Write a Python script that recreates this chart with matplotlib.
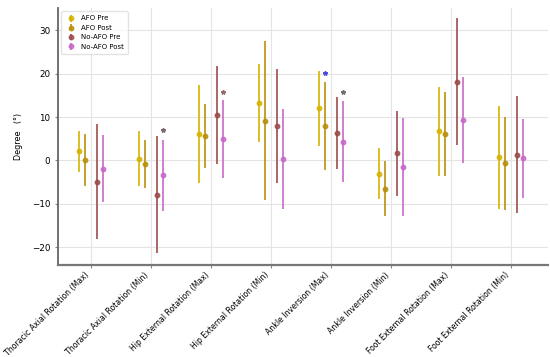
import matplotlib.pyplot as plt
import numpy as np

categories = ["Thoracic Axial Rotation (Max)", "Thoracic Axial Rotation (Min)",
              "Hip External Rotation (Max)", "Hip External Rotation (Min)",
              "Ankle Inversion (Max)", "Ankle Inversion (Min)",
              "Foot External Rotation (Max)", "Foot External Rotation (Min)"]

labels = ["AFO Pre", "AFO Post", "No-AFO Pre", "No-AFO Post"]

afo_pre_mean = [2.1, 0.4, 6.1, 13.2, 12.0, -3.1, 6.7, 0.7]
afo_pre_sd = [4.8, 6.3, 11.2, 9.0, 8.6, 5.9, 10.2, 11.8]

afo_post_mean = [0.0, -0.85, 5.6, 9.2, 7.9, -6.5, 6.1, -0.7]
afo_post_sd = [6.0, 5.6, 7.35, 18.4, 10.1, 6.4, 9.7, 10.7]

noafo_pre_mean = [-4.9, -7.9, 10.5, 8.0, 6.4, 1.6, 18.2, 1.3]
noafo_pre_sd = [13.3, 13.5, 11.4, 13.2, 8.3, 9.8, 14.6, 13.5]

noafo_post_mean = [-1.9, -3.4, 4.9, 0.3, 4.3, -1.5, 9.3, 0.5]
noafo_post_sd = [7.7, 8.2, 9.0, 11.5, 9.3, 11.4, 9.9, 9.1]

# significance marks: (category index, series index, y value, colour)
sig_marks = [(1, 3, 6.95, "#7a6a6a"), (2, 3, 15.9, "#9a6a6a"),
             (4, 1, 20.1, "#4a4ae0"), (4, 3, 15.75, "#707070")]

means = [afo_pre_mean, afo_post_mean, noafo_pre_mean, noafo_post_mean]
sds = [afo_pre_sd, afo_post_sd, noafo_pre_sd, noafo_post_sd]
colors = ["#d4b400", "#b8900b", "#9c4c4c", "#c868c8"]
offsets = [-0.2, -0.1, 0.1, 0.2]

fig = plt.figure(figsize=(5.5, 3.57), dpi=100)
ax = fig.add_axes([0.105, 0.258, 0.891, 0.72])

x = np.arange(len(categories))
for i in range(4):
    ax.errorbar(x + offsets[i], means[i], yerr=sds[i], fmt='o', color=colors[i],
                ecolor=colors[i], elinewidth=1.4, markersize=3.2, capsize=0,
                alpha=0.85, label=labels[i])

for c, s, yv, col in sig_marks:
    ax.plot(c + offsets[s], yv, marker='*', color=col, markersize=3.2, linestyle='none')

ax.set_xticks(x)
ax.set_xticklabels(categories, rotation=45, ha='right', fontsize=5.6)
ax.set_ylabel("Degree   (°)", fontsize=5.8, labelpad=6)
ax.tick_params(axis='y', labelsize=6.3, length=2, color='#888888')
ax.tick_params(axis='x', length=2, color='#888888', pad=2)
ax.set_xlim(-0.55, 7.62)
ax.set_ylim(-24.1, 35.2)
ax.set_yticks([-20, -10, 0, 10, 20, 30])

ax.grid(True, color='#e4e4e4', linewidth=0.8)
ax.set_axisbelow(True)
for side in ['top', 'right']:
    ax.spines[side].set_visible(False)
ax.spines['left'].set_color('#666666')
ax.spines['left'].set_linewidth(1.3)
ax.spines['bottom'].set_color('#777777')
ax.spines['bottom'].set_linewidth(1.6)

ax.legend(loc='upper left', fontsize=5, frameon=True, edgecolor='#dddddd',
          borderpad=0.6, handletextpad=0.6, handlelength=1.6)

plt.savefig("out.png", dpi=100)
